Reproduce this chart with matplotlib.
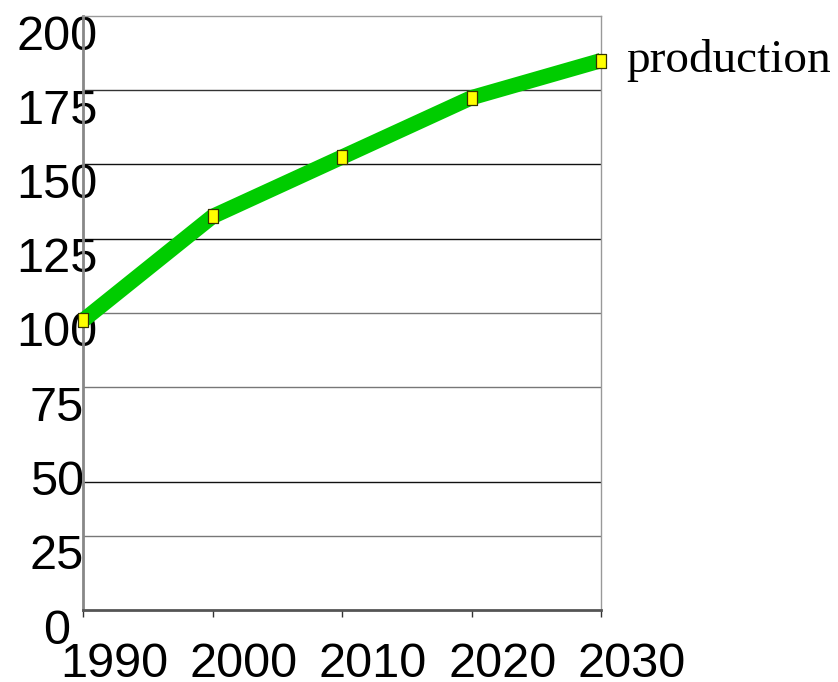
import matplotlib.pyplot as plt
from matplotlib.transforms import ScaledTranslation

# Data
years = [1990, 2000, 2010, 2020, 2030]
production = [97.5, 132.5, 152.5, 172.5, 185]
y_ticks = [0, 25, 50, 75, 100, 125, 150, 175, 200]
# the horizontal rules in the original are not all on the tick values
grid_values = [25, 43, 75, 100, 125, 150, 175]
grid_colors = ["#777777", "#111111", "#777777", "#777777", "#111111", "#111111", "#333333"]
series_name = "production"

W, H = 838, 682
fig = plt.figure(figsize=(W / 100, H / 100), dpi=100)
ax = fig.add_axes([83 / W, 1 - 610 / H, (601 - 83) / W, (610 - 16) / H])

ax.set_xlim(1990, 2030)
ax.set_ylim(0, 200)

for v, c in zip(grid_values, grid_colors):
    ax.axhline(v, color=c, lw=1.0, zorder=1)

# rectangle marker, taller than wide
rect = [(-0.35, -0.5), (0.35, -0.5), (0.35, 0.5), (-0.35, 0.5), (-0.35, -0.5)]
ax.plot(years, production, color="#00CC00", lw=11, solid_capstyle="butt",
        solid_joinstyle="miter", zorder=3, clip_on=False)
ax.plot(years, production, ls="none", marker=rect, ms=10.5, mfc="#FFFF00",
        mec="#333300", mew=0.9, zorder=4, clip_on=False)

# spines
for side in ["top", "right"]:
    ax.spines[side].set_color("#999999")
    ax.spines[side].set_linewidth(1.0)
ax.spines["left"].set_color("#888888")
ax.spines["left"].set_linewidth(2.0)
ax.spines["bottom"].set_color("#555555")
ax.spines["bottom"].set_linewidth(2.0)

font = {"family": "Liberation Sans", "size": 35}

ax.set_xticks(years)
ax.set_xticklabels([str(y) for y in years], fontdict=font)
ax.tick_params(axis="x", direction="out", length=5, width=1, color="#333333", pad=18)
for lab in ax.get_xticklabels():
    lab.set_transform(lab.get_transform() + ScaledTranslation(0.31, 0, fig.dpi_scale_trans))

ax.set_yticks(y_ticks)
ax.set_yticklabels([str(v) for v in y_ticks], fontdict=font)
ax.tick_params(axis="y", length=0, pad=19)
for lab in ax.get_yticklabels():
    lab.set_ha("center")
    lab.set_transform(lab.get_transform() + ScaledTranslation(0, -0.16, fig.dpi_scale_trans))

fig.text(626 / W, 1 - 60 / H, series_name, family="Liberation Serif", size=34,
         ha="left", va="center")

fig.savefig("out.png", dpi=100, facecolor="white")
